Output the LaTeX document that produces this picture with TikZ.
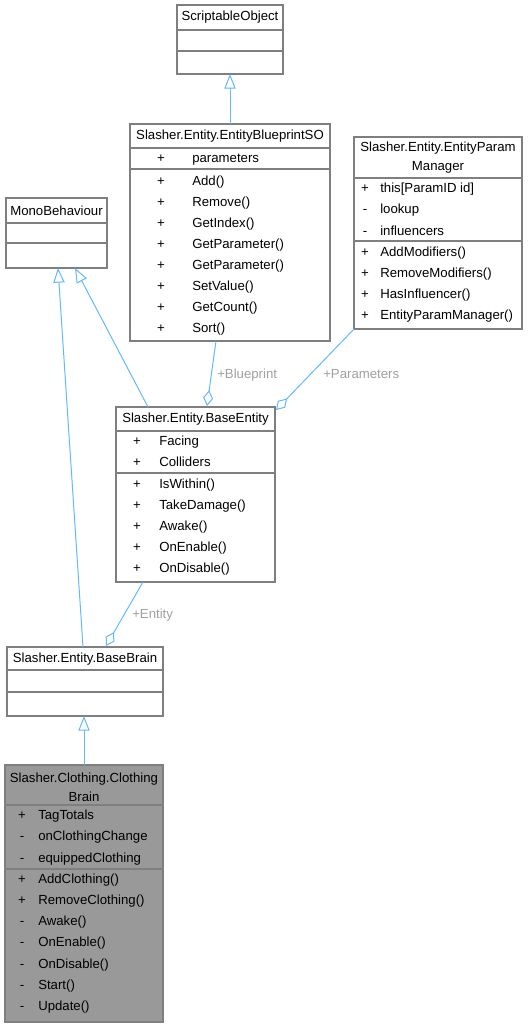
\documentclass[tikz,border=0pt]{standalone}
\usepackage{fontspec}
\setmainfont{Liberation Sans}
\usetikzlibrary{arrows.meta,fit}
\definecolor{edgeblue}{HTML}{63B8FF}
\definecolor{boxgray}{HTML}{7F7F7F}
\definecolor{labelgray}{HTML}{A0A0A0}
\definecolor{focusgray}{HTML}{999999}
\tikzset{
	classbox/.style={draw=boxgray,line width=0.9pt,fill=white,inner sep=0pt,outer sep=0pt},
	sepline/.style={draw=boxgray,line width=0.9pt},
	member/.style={anchor=west,inner sep=0pt,text height=7.1pt,text depth=0pt,font=\fontsize{9.9}{11}\selectfont},
	sign/.style={inner sep=0pt,text height=7.1pt,text depth=0pt,font=\fontsize{9.9}{11}\selectfont},
	title/.style={inner sep=0pt,align=center,font=\fontsize{9.9}{14.2}\selectfont},
	inherit/.style={draw=edgeblue,line width=0.75pt,-{Triangle[open,length=11pt,width=8.5pt,fill=white]}},
	aggr/.style={draw=edgeblue,line width=0.75pt,-{Diamond[open,length=12pt,width=7.5pt,fill=white]}},
	rolelabel/.style={anchor=west,inner sep=0pt,text height=7.1pt,text depth=0pt,text=labelgray,font=\fontsize{9.9}{11}\selectfont},
}
\begin{document}
\begin{tikzpicture}[x=0.75pt,y=-0.75pt]
	\useasboundingbox (0,0) rectangle (528,1027);

	\node[classbox,fit={(177,5) (283,74)}] (sobj) {};
	\node[title] (sobj-t) at (230,17.5) {ScriptableObject};
	\draw[sepline] (177,30) -- (283,30);
	\draw[sepline] (177,51) -- (283,51);

	\node[classbox,fit={(130,124) (330,341)}] (bpso) {};
	\node[title] (bpso-t) at (230,136) {Slasher.Entity.EntityBlueprintSO};
	\draw[sepline] (130,148) -- (330,148);
	\draw[sepline] (130,169) -- (330,169);
	\node[sign] at (161,158) {+};
	\node[member] (bpso-a0) at (192,158) {parameters};
	\foreach \m [count=\i from 0] in {Add(),Remove(),GetIndex(),GetParameter(),GetParameter(),SetValue(),GetCount(),Sort()}
	{
		\node[sign] at (161,181+21*\i) {+};
		\node[member] (bpso-m\i) at (192,181+21*\i) {\m};
	}

	\node[classbox,fit={(354,137) (522,329)}] (epm) {};
	\node[title] (epm-t) at (438,157.5) {Slasher.Entity.EntityParam\\Manager};
	\draw[sepline] (354,178) -- (522,178);
	\draw[sepline] (354,241) -- (522,241);
	\foreach \s/\m [count=\i from 0] in {+/this[ParamID id],-/lookup,-/influencers,+/AddModifiers(),+/RemoveModifiers(),+/HasInfluencer(),+/EntityParamManager()}
	{
		\node[sign] at (365,188+21.2*\i) {\s};
		\node[member] (epm-m\i) at (380,188+21.2*\i) {\m};
	}

	\node[classbox,fit={(6,198) (107,268)}] (mono) {};
	\node[title] (mono-t) at (56.5,211) {MonoBehaviour};
	\draw[sepline] (6,223) -- (107,223);
	\draw[sepline] (6,243) -- (107,243);

	\node[classbox,fit={(116,407) (275,582)}] (bent) {};
	\node[title] (bent-t) at (195.5,419) {Slasher.Entity.BaseEntity};
	\draw[sepline] (116,431) -- (275,431);
	\draw[sepline] (116,473) -- (275,473);
	\foreach \m [count=\i from 0] in {Facing,Colliders,IsWithin(),TakeDamage(),Awake(),OnEnable(),OnDisable()}
	{
		\node[sign] at (137,441+21.17*\i) {+};
		\node[member] (bent-m\i) at (159,441+21.17*\i) {\m};
	}

	\node[classbox,fit={(7,647) (163,716)}] (bbrain) {};
	\node[title] (bbrain-t) at (85,659) {Slasher.Entity.BaseBrain};
	\draw[sepline] (7,670) -- (163,670);
	\draw[sepline] (7,692) -- (163,692);

	\node[classbox,fill=focusgray,fit={(5,765) (163,1022)}] (cbrain) {};
	\node[title] (cbrain-t) at (84,787) {Slasher.Clothing.Clothing\\Brain};
	\draw[sepline] (5,805) -- (163,805);
	\draw[sepline] (5,869) -- (163,869);
	\foreach \s/\m [count=\i from 0] in {+/TagTotals,-/onClothingChange,-/equippedClothing,+/AddClothing(),+/RemoveClothing(),-/Awake(),-/OnEnable(),-/OnDisable(),-/Start(),-/Update()}
	{
		\node[sign] at (22,815+21.2*\i) {\s};
		\node[member] (cbrain-m\i) at (38,815+21.2*\i) {\m};
	}

	\coordinate (mono-r) at (75,268);
	\coordinate (mono-l) at (58,268);
	\coordinate (bent-up) at (148,407);
	\coordinate (bbrain-up) at (83,647);
	\coordinate (bpso-down) at (216,341);
	\coordinate (bent-bp) at (207,406);
	\coordinate (bent-par) at (276,410);
	\coordinate (bent-down) at (143,582);
	\coordinate (bbrain-ent) at (106,646);

	\draw[inherit] (bpso.north) -- (sobj.south);
	\draw[inherit] (bent-up) -- (mono-r);
	\draw[inherit] (bbrain-up) -- (mono-l);
	\draw[inherit] (cbrain.north) -- (cbrain.north |- bbrain.south);
	\draw[aggr] (bpso-down) -- (bent-bp);
	\draw[aggr] (epm.south west) -- (bent-par);
	\draw[aggr] (bent-down) -- (bbrain-ent);

	\node[rolelabel] (lbl-bp) at (217,374) {+Blueprint};
	\node[rolelabel] (lbl-par) at (323,374) {+Parameters};
	\node[rolelabel] (lbl-ent) at (132,614) {+Entity};
\end{tikzpicture}
\end{document}
